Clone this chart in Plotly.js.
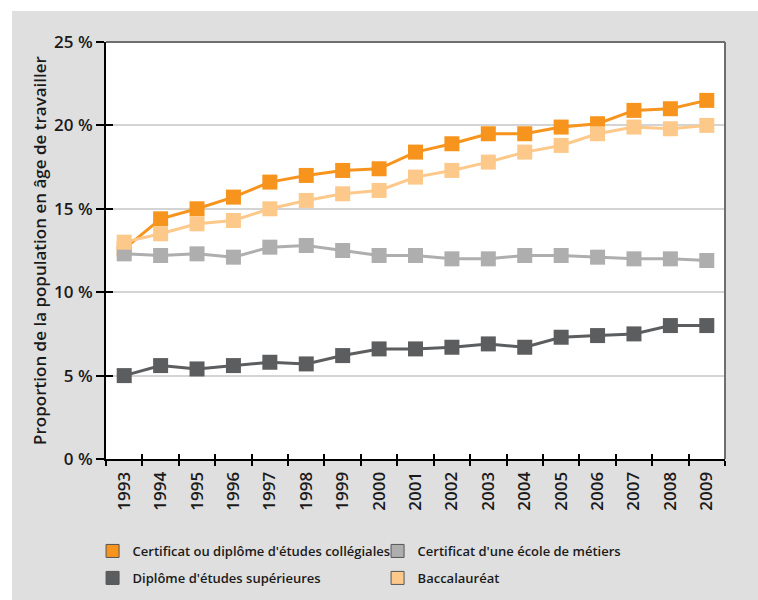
<!DOCTYPE html>
<html>
<head>
<meta charset="utf-8">
<script src="https://cdn.plot.ly/plotly-3.0.1.min.js"></script>
<style>
  html, body { margin: 0; padding: 0; background: #ffffff; }
  #chart { position: absolute; left: 12px; top: 11px; width: 746px; height: 589px; }
</style>
</head>
<body>
<div id="chart"></div>
<script>
// ---- Data ----
const years = ["1993","1994","1995","1996","1997","1998","1999","2000","2001","2002","2003","2004","2005","2006","2007","2008","2009"];
const college = [12.6, 14.4, 15.0, 15.7, 16.6, 17.0, 17.3, 17.4, 18.4, 18.9, 19.5, 19.5, 19.9, 20.1, 20.9, 21.0, 21.5];
const metiers = [12.3, 12.2, 12.3, 12.1, 12.7, 12.8, 12.5, 12.2, 12.2, 12.0, 12.0, 12.2, 12.2, 12.1, 12.0, 12.0, 11.9];
const superieures = [5.0, 5.6, 5.4, 5.6, 5.8, 5.7, 6.2, 6.6, 6.6, 6.7, 6.9, 6.7, 7.3, 7.4, 7.5, 8.0, 8.0];
const baccalaureat = [13.0, 13.5, 14.1, 14.3, 15.0, 15.5, 15.9, 16.1, 16.9, 17.3, 17.8, 18.4, 18.8, 19.5, 19.9, 19.8, 20.0];
const seriesNames = [
  "Certificat ou diplôme d'études collégiales",
  "Certificat d'une école de métiers",
  "Diplôme d'études supérieures",
  "Baccalauréat"
];
const yTickVals = [0, 5, 10, 15, 20, 25];
const yTickText = ["0 %", "5 %", "10 %", "15 %", "20 %", "25 %"];

// ---- Styles ----
const colors = ["#F7941E", "#AEAEAE", "#5C5D5F", "#FDC98B"];
const legendRow = ["legend", "legend", "legend2", "legend2"];
const seriesData = [college, metiers, superieures, baccalaureat];
const FONT = "'Open Sans', Lato, sans-serif";
const TXT = "#1a1a1a";

const traces = [];
seriesData.forEach((vals, i) => {
  traces.push({
    x: years, y: vals, type: "scatter", mode: "lines+markers",
    name: seriesNames[i], showlegend: false,
    line: { color: colors[i], width: 3 },
    marker: { symbol: "square", size: 15, color: colors[i] },
    hoverinfo: "x+y"
  });
});
// legend entries (square swatches only)
seriesData.forEach((vals, i) => {
  traces.push({
    x: [null], y: [null], type: "scatter", mode: "markers",
    name: seriesNames[i], showlegend: true, legend: legendRow[i],
    xaxis: "x2", yaxis: "y2",
    marker: { symbol: "square", size: 13, color: colors[i], line: { color: "#555555", width: 1 } }
  });
});

const legendBase = {
  orientation: "h", xref: "container", yref: "container",
  x: 0.108, xanchor: "left", yanchor: "middle",
  font: { family: FONT, size: 13, color: TXT, weight: 600 },
  entrywidth: 240, entrywidthmode: "pixels",
  bgcolor: "rgba(0,0,0,0)", traceorder: "normal", itemclick: false, itemdoubleclick: false
};

const layout = {
  width: 746, height: 589,
  paper_bgcolor: "#dfdfdf",
  plot_bgcolor: "#ffffff",
  margin: { l: 94, r: 33, t: 31, b: 141, autoexpand: false },
  font: { family: FONT, color: TXT, size: 16, weight: 600 },
  showlegend: true,
  legend: Object.assign({}, legendBase, { y: 0.0832 }),
  legend2: Object.assign({}, legendBase, { y: 0.0374 }),
  xaxis: {
    type: "category", categoryorder: "array", categoryarray: years,
    range: [-0.5, years.length - 0.5], automargin: false,
    tickson: "boundaries", ticks: "outside", ticklen: 5, tickwidth: 1.5, tickcolor: "#000",
    showline: true, linecolor: "#000", linewidth: 2, ticklabelstandoff: 4,
    showgrid: false, zeroline: false, tickangle: -90,
    tickfont: { family: FONT, size: 17, color: TXT, weight: 600 },
    fixedrange: true
  },
  xaxis2: {
    type: "category", categoryorder: "array", categoryarray: years,
    range: [-0.5, years.length - 0.5], overlaying: "x", anchor: "y2", side: "bottom",
    tickson: "boundaries", ticks: "inside", ticklen: 5, tickwidth: 1.5, tickcolor: "#000",
    showline: false, showgrid: false, zeroline: false, showticklabels: false, fixedrange: true
  },
  yaxis: {
    range: [0, 25], tickmode: "array", tickvals: yTickVals, ticktext: yTickText,
    ticks: "outside", ticklen: 8, tickwidth: 1.5, tickcolor: "#000", automargin: false,
    showline: true, linecolor: "#000", linewidth: 2,
    showgrid: true, gridcolor: "#d4d4d4", gridwidth: 1.5, zeroline: false,
    tickfont: { family: FONT, size: 17, color: TXT, weight: 600 },
    title: { text: "Proportion de la population en âge de travailler",
             font: { family: FONT, size: 17, color: TXT, weight: 600 }, standoff: 3 },
    fixedrange: true
  },
  yaxis2: {
    range: [0, 25], overlaying: "y", anchor: "x2", side: "left",
    tickmode: "array", tickvals: yTickVals,
    ticks: "inside", ticklen: 7, tickwidth: 1.5, tickcolor: "#000",
    showline: false, showgrid: false, zeroline: false, showticklabels: false, fixedrange: true
  },
  shapes: [
    { type: "line", xref: "paper", yref: "paper", x0: 0, x1: 1, y0: 1, y1: 1,
      line: { color: "#6e6e6e", width: 2 }, layer: "above" },
    { type: "line", xref: "paper", yref: "paper", x0: 1, x1: 1, y0: 0, y1: 1,
      line: { color: "#6e6e6e", width: 2 }, layer: "above" }
  ]
};

Plotly.newPlot("chart", traces, layout, { displayModeBar: false });
</script>
</body>
</html>
